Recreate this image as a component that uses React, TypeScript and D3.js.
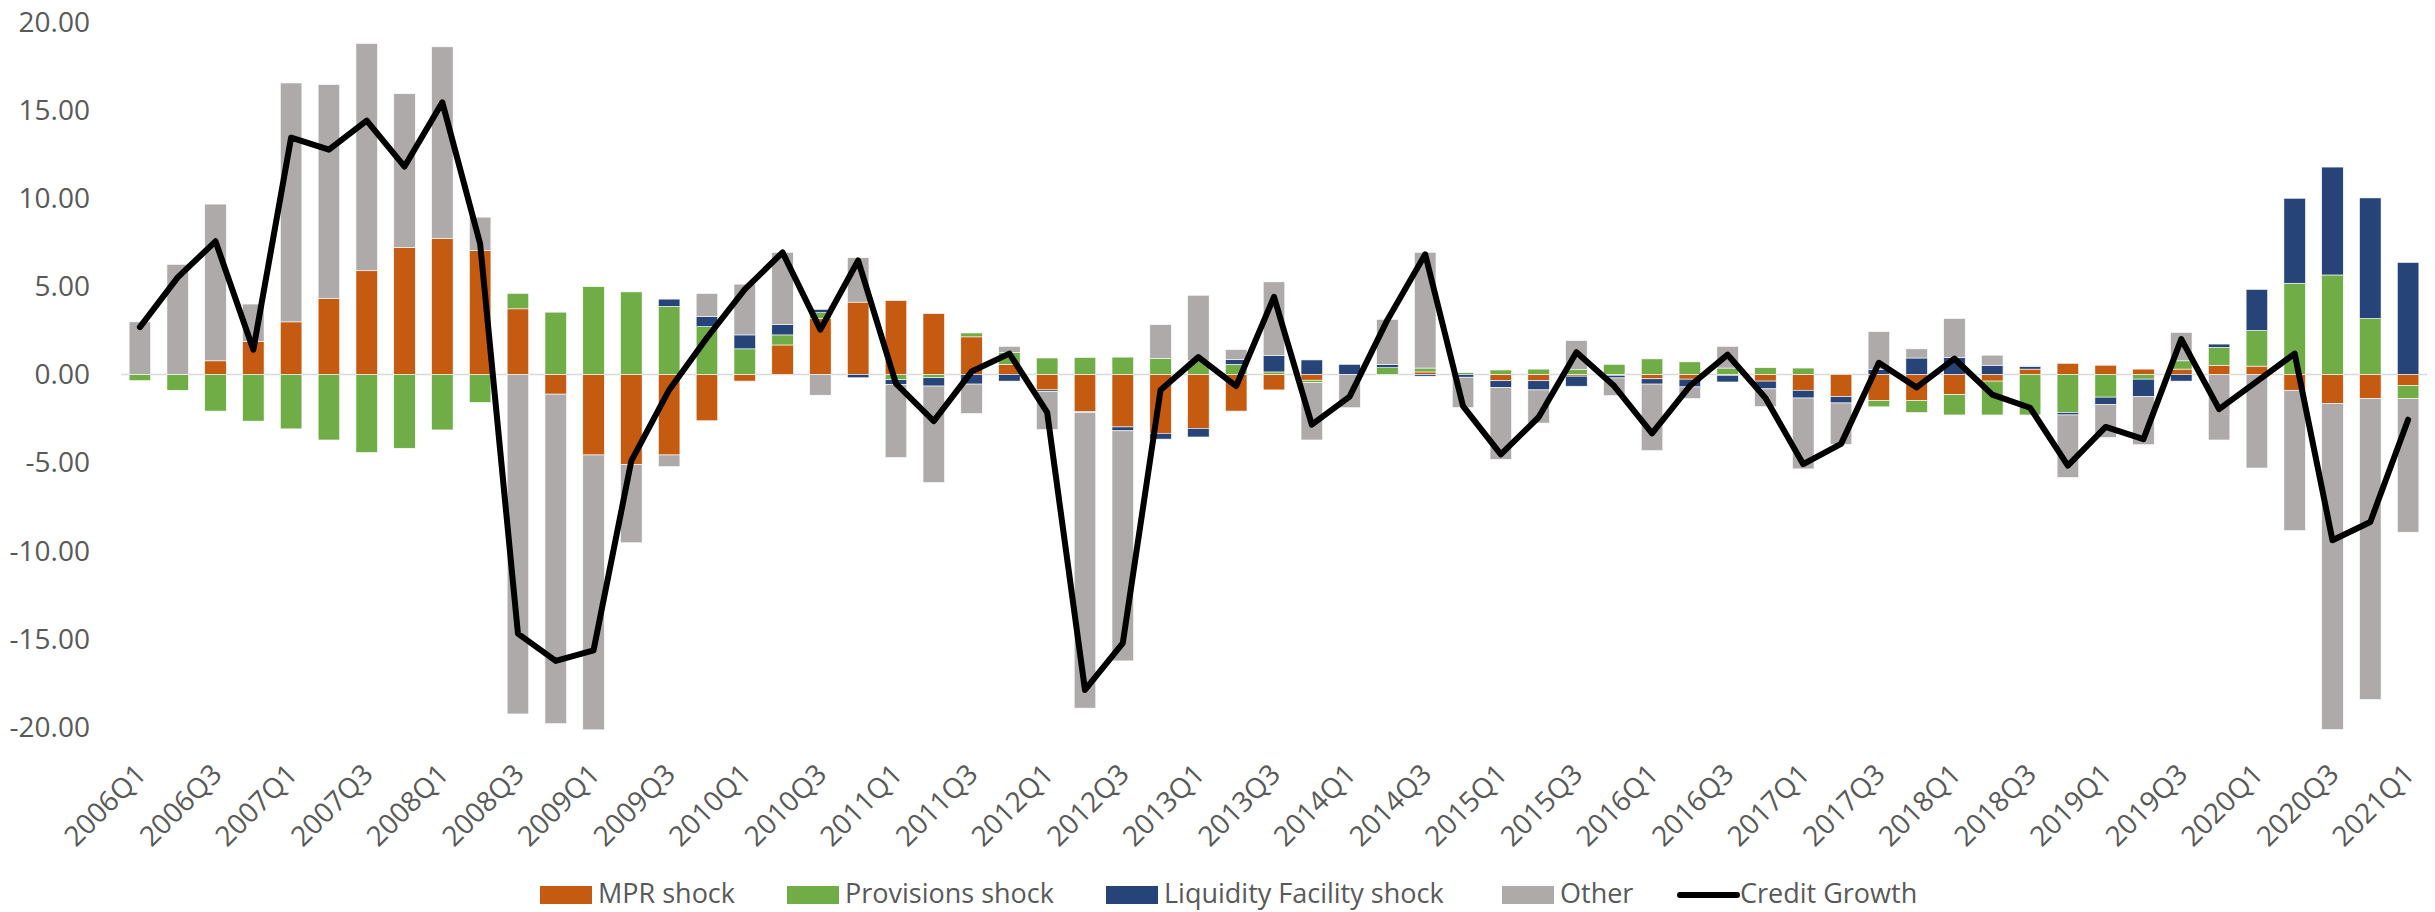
import React from "react";
import * as d3 from "d3";

const quarters: string[] = [];
for (let y = 2006; y <= 2021; y++) {
  for (let q = 1; q <= 4; q++) {
    if (y === 2021 && q > 1) break;
    quarters.push(`${y}Q${q}`);
  }
}

const mprShock = [
  0, 0, 0.77, 1.86, 2.98, 4.3, 5.88, 7.2, 7.72, 7.03,
  3.72, -1.12, -4.57, -5.12, -4.57, -2.63, -0.38, 1.67, 3.17, 4.1,
  4.19, 3.45, 2.13, 0.57, -0.88, -2.11, -2.98, -3.34, -3.06, -2.08,
  -0.88, -0.33, 0, 0, 0.14, 0, -0.36, -0.36, -0.1, -0.05,
  -0.25, -0.27, -0.05, -0.38, -0.9, -1.26, -1.48, -1.48, -1.15, -0.38,
  0.3, 0.63, 0.52, 0.3, 0.3, 0.52, 0.47, -0.9, -1.64, -1.37,
  -0.63,
];
const provisionsShock = [
  -0.35, -0.9, -2.08, -2.65, -3.09, -3.72, -4.43, -4.19, -3.15, -1.59,
  0.88, 3.53, 4.98, 4.68, 3.86, 2.71, 1.45, 0.57, 0.33, 0,
  -0.3, -0.19, 0.22, 0.66, 0.93, 0.96, 0.98, 0.9, 0.77, 0.57,
  0.14, -0.14, 0, 0.38, 0.22, 0.1, 0.25, 0.3, 0.27, 0.57,
  0.88, 0.71, 0.36, 0.38, 0.36, 0, -0.36, -0.68, -1.15, -1.92,
  -2.3, -2.16, -1.29, -0.27, 0.47, 1.01, 2.02, 5.17, 5.64, 3.17,
  -0.74,
];
const liquidityShock = [
  0, 0, 0, 0, 0, 0, 0, 0, 0, 0,
  0, 0, 0, 0, 0.41, 0.57, 0.79, 0.58, 0.19, -0.19,
  -0.27, -0.47, -0.55, -0.38, -0.08, -0.06, -0.22, -0.33, -0.49, 0.27,
  0.93, 0.82, 0.57, 0.19, -0.1, -0.16, -0.38, -0.52, -0.57, -0.15,
  -0.3, -0.44, -0.38, -0.44, -0.44, -0.36, 0.27, 0.93, 0.96, 0.52,
  0.14, -0.14, -0.41, -0.99, -0.38, 0.19, 2.33, 4.82, 6.12, 6.84,
  6.35,
];
const other = [
  2.98, 6.24, 8.89, 2.13, 13.55, 12.14, 12.89, 8.72, 10.86, 1.89,
  -19.26, -18.69, -15.59, -4.43, -0.66, 1.31, 2.88, 4.1, -1.18, 2.52,
  -4.14, -5.47, -1.67, 0.36, -2.16, -16.76, -13.05, 1.92, 3.72, 0.57,
  4.18, -3.25, -1.89, 2.55, 6.56, -1.72, -4.08, -1.88, 1.65, -1.0,
  -3.77, -0.66, 1.23, -1.01, -4.02, -2.35, 2.16, 0.52, 2.21, 0.57,
  0.05, -3.55, -1.88, -2.73, 1.61, -3.72, -5.31, -7.96, -18.5, -17.07,
  -7.58,
];
const creditGrowth = [
  2.68, 5.5, 7.55, 1.4, 13.43, 12.75, 14.39, 11.79, 15.43, 7.41,
  -14.7, -16.25, -15.65, -4.9, -0.88, 2.08, 4.82, 6.92, 2.54, 6.46,
  -0.52, -2.65, 0.16, 1.18, -2.16, -17.9, -15.24, -0.88, 0.98, -0.66,
  4.4, -2.85, -1.26, 3.09, 6.81, -1.8, -4.54, -2.43, 1.26, -0.66,
  -3.34, -0.66, 1.12, -1.34, -5.09, -3.94, 0.66, -0.74, 0.89, -1.15,
  -1.89, -5.17, -2.98, -3.67, 2.0, -1.97, -0.4, 1.18, -9.41, -8.37,
  -2.57,
];

const yTicks = [-20, -15, -10, -5, 0, 5, 10, 15, 20];

const seriesKeys = ["mpr", "prov", "liq", "other"];
const seriesNames = ["MPR shock", "Provisions shock", "Liquidity Facility shock", "Other"];
const seriesColors = ["#C55A11", "#70AD47", "#264478", "#AEAAAA"];

const W = 2435;
const H = 912;
const FONT = "'Open Sans', 'Noto Sans', sans-serif";
const TEXT = "#595959";

export default function App() {
  const rows = quarters.map((q, i) => ({
    q,
    mpr: mprShock[i],
    prov: provisionsShock[i],
    liq: liquidityShock[i],
    other: other[i],
  }));

  const x = d3
    .scaleBand<string>()
    .domain(quarters)
    .range([121, 2427])
    .paddingInner(0.43)
    .paddingOuter(0.215);
  const y = d3.scaleLinear().domain([-20, 20]).range([727, 21.8]);

  const stacked = d3
    .stack<any>()
    .keys(seriesKeys)
    .offset(d3.stackOffsetDiverging)(rows);

  const line = d3
    .line<number>()
    .x((_, i) => (x(quarters[i]) as number) + x.bandwidth() / 2)
    .y((d) => y(d));

  const labelQuarters = quarters.filter((_, i) => i % 2 === 0);

  const legendItems = [
    { name: seriesNames[0], color: seriesColors[0], x: 540, type: "rect" },
    { name: seriesNames[1], color: seriesColors[1], x: 787, type: "rect" },
    { name: seriesNames[2], color: seriesColors[2], x: 1106, type: "rect" },
    { name: seriesNames[3], color: seriesColors[3], x: 1502, type: "rect" },
    { name: "Credit Growth", color: "#000", x: 1680, type: "line" },
  ];

  return (
    <svg
      width={W}
      height={H}
      style={{ position: "absolute", left: 0, top: 0, background: "#fff" }}
      fontFamily={FONT}
    >
      <rect x={0} y={0} width={W} height={H} fill="#fff" />
      {/* y axis labels */}
      {yTicks.map((t) => (
        <text
          key={t}
          x={90}
          y={y(t)}
          dy="0.35em"
          textAnchor="end"
          fontSize={28}
          fill={TEXT}
        >
          {t.toFixed(2)}
        </text>
      ))}
      {/* zero axis line */}
      <line x1={121} x2={2427} y1={y(0)} y2={y(0)} stroke="#D9D9D9" strokeWidth={1.5} />
      {/* bars */}
      {stacked.map((s, si) => (
        <g key={s.key} fill={seriesColors[si]}>
          {s.map((d, i) => {
            const y0 = y(d[0]);
            const y1 = y(d[1]);
            const h = Math.abs(y0 - y1);
            if (h < 0.01) return null;
            return (
              <rect
                key={i}
                x={x(quarters[i])}
                width={x.bandwidth()}
                y={Math.min(y0, y1)}
                height={h}
                stroke="#ffffff"
                strokeWidth={0.6}
              />
            );
          })}
        </g>
      ))}
      {/* credit growth line */}
      <path
        d={line(creditGrowth) || ""}
        fill="none"
        stroke="#000"
        strokeWidth={6}
        strokeLinejoin="round"
        strokeLinecap="round"
      />
      {/* x axis labels */}
      {labelQuarters.map((q) => {
        const cx = (x(q) as number) + x.bandwidth() / 2 + 8;
        const cy = 776;
        return (
          <text
            key={q}
            transform={`translate(${cx},${cy}) rotate(-45)`}
            textAnchor="end"
            fontSize={28}
            fill={TEXT}
          >
            {q}
          </text>
        );
      })}
      {/* legend */}
      {legendItems.map((it) => (
        <g key={it.name}>
          {it.type === "rect" ? (
            <rect x={it.x} y={886} width={52} height={18} fill={it.color} />
          ) : (
            <line
              x1={it.x}
              x2={it.x + 57}
              y1={895}
              y2={895}
              stroke="#000"
              strokeWidth={6}
              strokeLinecap="round"
            />
          )}
          <text
            x={it.type === "rect" ? it.x + 58 : it.x + 60}
            y={903}
            fontSize={27}
            fill={TEXT}
          >
            {it.name}
          </text>
        </g>
      ))}
    </svg>
  );
}
